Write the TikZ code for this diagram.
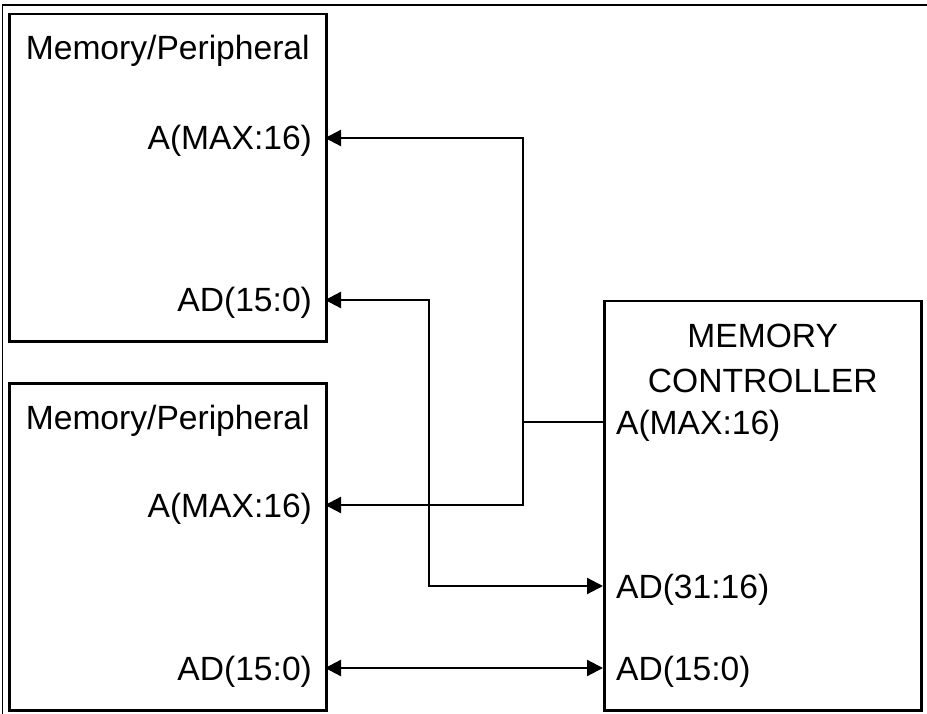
\documentclass[tikz,border=0pt]{standalone}
\usepackage{fontspec}
\setmainfont{Liberation Sans}
\usetikzlibrary{arrows.meta}

\tikzset{
    unitbox/.style={draw, line width=2.5pt, minimum width=317pt, anchor=north west, inner sep=0pt},
    title/.style={font=\fontsize{33.6}{40}\selectfont, anchor=base, inner sep=0pt},
    pinleft/.style={font=\fontsize{33.6}{40}\selectfont, anchor=east, inner xsep=12pt, inner ysep=0pt, text height=24pt, text depth=0pt},
    pinright/.style={pinleft, anchor=west},
}

\begin{document}
\begin{tikzpicture}[x=1pt, y=-1pt, line width=2.2pt, >={Triangle[length=16pt,width=16pt]}]
    \useasboundingbox (0,0) rectangle (927,714);
    \draw[line width=1.6pt] (2.5,714) -- (2.5,5) -- (927,5);
    % the three boxes
    \node[unitbox, minimum height=327pt] (memtop) at (8,13) {};
    \node[unitbox, minimum height=327pt] (membot) at (8,382) {};
    \node[unitbox, minimum height=409pt] (ctrl) at (603,300) {};
    \node[title] (toptitle) at ([yshift=-47pt]memtop.north) {Memory/Peripheral};
    \node[title] (bottitle) at ([yshift=-47pt]membot.north) {Memory/Peripheral};
    \node[title] (ctrltitle) at ([yshift=-48pt]ctrl.north) {MEMORY};
    \node[title] (ctrltitle2) at ([yshift=-44pt]ctrltitle.base) {CONTROLLER};
    % pins
    \node[pinleft] (topA) at (325,138) {A(MAX:16)};
    \node[pinleft] (topAD) at (325,300) {AD(15:0)};
    \node[pinleft] (botA) at (325,505) {A(MAX:16)};
    \node[pinleft] (botAD) at (325,668) {AD(15:0)};
    \node[pinright] (ctrlA) at (603,422) {A(MAX:16)};
    \node[pinright] (ctrlADhi) at (603,586) {AD(31:16)};
    \node[pinright] (ctrlADlo) at (603,668) {AD(15:0)};
    % buses
    \coordinate (abus) at (523,422);
    \coordinate (adturn) at (429,300);
    \draw (ctrlA.west) -- (abus);
    \draw[->] (abus) |- (topA.east);
    \draw[->] (abus) |- (botA.east);
    \draw[<->] (topAD.east) -- (adturn) |- (ctrlADhi.west);
    \draw[<->] (botAD.east) -- (ctrlADlo.west);
\end{tikzpicture}
\end{document}
